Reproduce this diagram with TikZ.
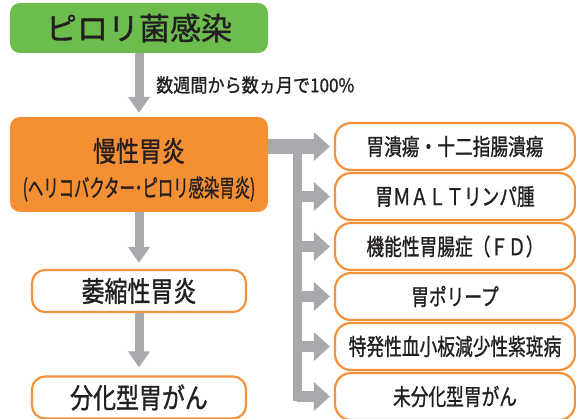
\documentclass[tikz,border=0pt]{standalone}
\usepackage{fontspec}
\newfontfamily\jp[FakeBold=1.2]{Noto Sans CJK JP}
\usetikzlibrary{arrows.meta,positioning}
\usepackage{xcolor}
\definecolor{leafgreen}{RGB}{108,189,78}
\definecolor{warmorange}{RGB}{245,143,52}
\definecolor{rimorange}{RGB}{244,146,60}
\definecolor{arrowgray}{RGB}{167,169,172}
\definecolor{ink}{RGB}{35,31,32}
\newcommand{\narrow}[2][0.8]{\scalebox{#1}[1]{#2}}

\begin{document}
\begin{tikzpicture}[x=1pt,y=-1pt,
  every node/.style={font=\jp, text=ink, inner sep=0pt},
  solidbox/.style={rounded corners=10pt, minimum width=258pt},
  stagebox/.style={draw=rimorange, line width=2.2pt, fill=white, rounded corners=13pt,
    minimum width=214pt, minimum height=42pt, font=\jp\fontsize{28}{28}\selectfont},
  diseasebox/.style={draw=rimorange, line width=2.2pt, fill=white, rounded corners=16pt,
    minimum width=240pt, minimum height=47pt, font=\jp\fontsize{23}{23}\selectfont},
  flow/.style={draw=arrowgray, line width=9pt, -{Triangle[width=21pt,length=16pt]}},
  branch/.style={draw=arrowgray, line width=11pt, -{Triangle[width=28pt,length=16pt]}, shorten >=4pt}
]
            \useasboundingbox (0,0) rectangle (576,419);

            % left column
            \node[solidbox, fill=leafgreen, minimum height=50pt] (pylori) at (139,28)
                {\fontsize{31}{31}\selectfont ピロリ菌感染};
            \node[solidbox, fill=warmorange, minimum height=95pt] (gastritis) at (139,164.5) {};
            \node (chronic) at (139,151) {\fontsize{28}{28}\selectfont\narrow[0.82]{慢性胃炎}};
            \node (chronicsub) at (139,189)
                {\fontsize{24}{24}\selectfont\narrow[0.64]{(ヘリコバクター･ピロリ感染胃炎)}};
            \node[stagebox] (atrophic) at (139,291) {\narrow[0.82]{萎縮性胃炎}};
            \node[stagebox] (diffcancer) at (139,397.5) {\narrow[0.82]{分化型胃がん}};

            \draw[flow, shorten >=4pt] (pylori) -- (gastritis);
            \node[anchor=west] (rate) at (156,85)
                {\fontsize{19}{19}\selectfont\narrow[0.9]{数週間から数ヵ月で100\%}};
            \draw[flow, shorten >=6pt] (gastritis) -- (atrophic);
            \draw[flow, shorten >=8pt] (atrophic) -- (diffcancer);

            % right column
            \foreach \txt [count=\i] in {胃潰瘍・十二指腸潰瘍, 胃ＭＡＬＴリンパ腫, 機能性胃腸症（ＦＤ）,
                胃ポリープ, 特発性血小板減少性紫斑病, 未分化型胃がん}
                \node[diseasebox] (ill\i) at (455,96.5+50*\i) {\narrow[0.77]{\txt}};

            \coordinate (trunk) at (297,0);
            \draw[arrowgray, line width=9pt, line cap=rect] (trunk |- ill1.west) -- (trunk |- ill6.west);
            \draw[branch, line width=15pt] (gastritis.east |- ill1.west) -- (ill1.west);
            \foreach \i in {2,...,6}
                \draw[branch] (trunk |- ill\i.west) -- (ill\i.west);
        \end{tikzpicture}
\end{document}
